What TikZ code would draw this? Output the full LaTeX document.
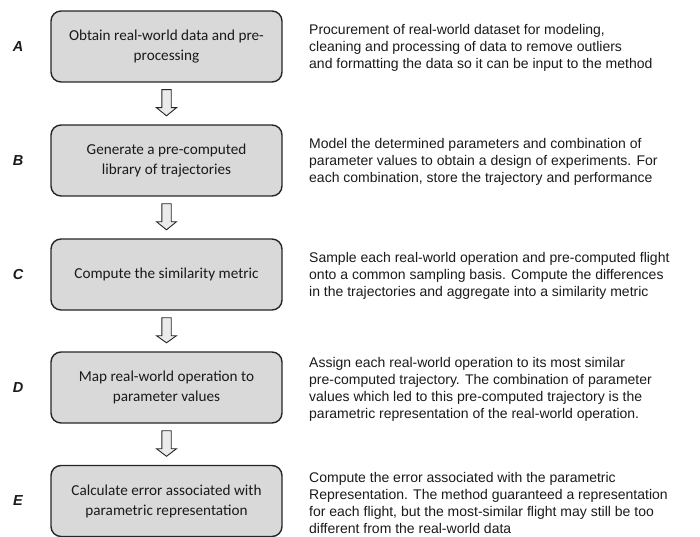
\documentclass[tikz,border=0pt]{standalone}
\usepackage{fontspec}
\setmainfont{Liberation Sans}
\newfontfamily\boxfont{Carlito}
\usetikzlibrary{calc}
\definecolor{boxfill}{HTML}{D9D9D9}
\definecolor{boxline}{HTML}{262626}
\definecolor{txt}{HTML}{1A1A1A}
\tikzset{
  stepbox/.style={draw=boxline, line width=1.4pt, fill=boxfill, rounded corners=10pt,
    minimum width=231pt, minimum height=71pt, align=center, inner sep=0pt,
    font=\boxfont\fontsize{15.2}{20}\selectfont, text=txt},
  desc/.style={anchor=west, align=left, inner sep=0pt,
    font=\fontsize{14}{17}\selectfont, text=txt},
  letter/.style={font=\fontsize{14.5}{16}\selectfont\bfseries\itshape, text=txt, inner sep=0pt},
  blockarrow/.style={draw=boxline, line width=0.9pt, fill=white!92!black, line join=miter}
}
\newcommand{\downarrowbox}[2]{%
  \draw[blockarrow]
    ($(#1.south)+(-4.7,7)$) -- ($(#1.south)+(4.7,7)$) -- ($(#1.south)+(4.7,25)$)
    -- ($(#1.south)+(10,25)$) -- ($(#2.north)+(0,-8.5)$) -- ($(#1.south)+(-10,25)$)
    -- ($(#1.south)+(-4.7,25)$) -- cycle;}
\begin{document}
\begin{tikzpicture}[x=1pt,y=-1pt]
\useasboundingbox (0,0) rectangle (700,537);
\node[stepbox] (A) at (166.5,46.5) {Obtain real-world data and pre-\\processing};
\node[stepbox] (B) at (166.5,160.5) {Generate a pre-computed\\library of trajectories};
\node[stepbox] (C) at (166.5,274.5) {Compute the similarity metric};
\node[stepbox] (D) at (166.5,387.5) {Map real-world operation to\\parameter values};
\node[stepbox] (E) at (166.5,501) {Calculate error associated with\\parametric representation};

\node[letter] (lA) at (18,46.5) {A};
\node[letter] (lB) at (18,160.5) {B};
\node[letter] (lC) at (18,274.5) {C};
\node[letter] (lD) at (18,387.5) {D};
\node[letter] (lE) at (18,501) {E};

\node[desc] (dA) at (309,47.5) {Procurement of real-world dataset for modeling,\\cleaning and processing of data to remove outliers\\and formatting the data so it can be input to the method};
\node[desc] (dB) at (309,161.5) {Model the determined parameters and combination of\\parameter values to obtain a design of experiments. For\\each combination, store the trajectory and performance};
\node[desc] (dC) at (309,275.5) {Sample each real-world operation and pre-computed flight\\onto a common sampling basis. Compute the differences\\in the trajectories and aggregate into a similarity metric};
\node[desc] (dD) at (309,389) {Assign each real-world operation to its most similar\\pre-computed trajectory. The combination of parameter\\values which led to this pre-computed trajectory is the\\parametric representation of the real-world operation.};
\node[desc] (dE) at (309,503) {Compute the error associated with the parametric\\Representation. The method guaranteed a representation\\for each flight, but the most-similar flight may still be too\\different from the real-world data};

\downarrowbox{A}{B}
\downarrowbox{B}{C}
\downarrowbox{C}{D}
\downarrowbox{D}{E}
\end{tikzpicture}
\end{document}
